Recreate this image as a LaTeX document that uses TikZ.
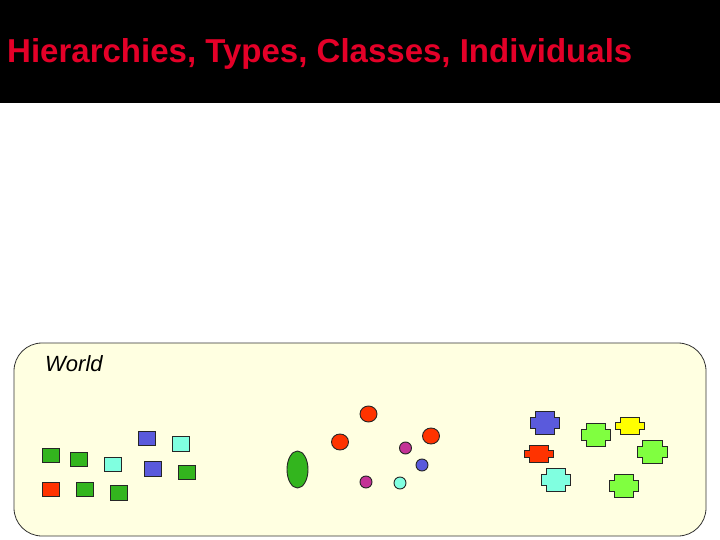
\documentclass[tikz,border=0pt]{standalone}
\usepackage{fontspec}
\setmainfont{Liberation Sans}
\usepackage{graphicx}
\usetikzlibrary{shapes.geometric}
\definecolor{titlered}{RGB}{228,0,40}
\definecolor{worldbg}{RGB}{255,255,225}
\definecolor{sqgreen}{RGB}{51,181,30}
\definecolor{sqred}{RGB}{255,51,0}
\definecolor{sqblue}{RGB}{90,90,220}
\definecolor{sqcyan}{RGB}{128,255,224}
\definecolor{dotpurple}{RGB}{195,50,150}
\definecolor{lgreen}{RGB}{128,255,64}
\definecolor{yel}{RGB}{255,255,0}
\newcommand\blob[6]{% cx, cy, w, h, notch-y, colour
  \draw[shape line, fill=#6, shift={(#1,#2)}]
    ({-#3/2+5},{-#4/2}) -- ({#3/2-5},{-#4/2}) -- ({#3/2-5},{-#4/2+#5}) -- ({#3/2},{-#4/2+#5})
    -- ({#3/2},{#4/2-#5}) -- ({#3/2-5},{#4/2-#5}) -- ({#3/2-5},{#4/2}) -- ({-#3/2+5},{#4/2})
    -- ({-#3/2+5},{#4/2-#5}) -- ({-#3/2},{#4/2-#5}) -- ({-#3/2},{-#4/2+#5}) -- ({-#3/2+5},{-#4/2+#5}) -- cycle;}
\begin{document}
\begin{tikzpicture}[x=1pt,y=-1pt,
  shape line/.style={draw=black!85, line width=0.9pt},
  sq/.style={shape line, minimum width=17pt, minimum height=14pt, inner sep=0pt, rectangle},
  dot/.style={shape line, circle, inner sep=0pt, minimum size=12pt},
  oval/.style={shape line, ellipse, inner sep=0pt, minimum width=17pt, minimum height=16pt}]
\useasboundingbox (0,0) rectangle (720,540);
\fill[white] (0,0) rectangle (720,540);
\fill[black] (0,0) rectangle (720,103);
\node[anchor=base west, inner sep=0pt, text=titlered] (title) at (7,63)
  {\resizebox{625pt}{24pt}{\bfseries Hierarchies, Types, Classes, Individuals}};
\draw[fill=worldbg, draw=black!80, line width=0.8pt, rounded corners=28pt] (14,343) rectangle (706,536);
\node[anchor=base west, inner sep=0pt, font=\fontsize{22}{24}\selectfont\itshape] (world) at (45,371) {World};
% squares
\node[sq, fill=sqgreen] (s1) at (50.5,455) {};
\node[sq, fill=sqgreen] (s2) at (78.5,459) {};
\node[sq, fill=sqcyan] (s3) at (113,464) {};
\node[sq, fill=sqblue] (s4) at (146.5,438) {};
\node[sq, fill=sqcyan, minimum height=15pt] (s5) at (181,444) {};
\node[sq, fill=sqblue, minimum height=15pt] (s6) at (153,468.5) {};
\node[sq, fill=sqgreen] (s7) at (187,472) {};
\node[sq, fill=sqred] (s8) at (50.5,489) {};
\node[sq, fill=sqgreen] (s9) at (85,489) {};
\node[sq, fill=sqgreen, minimum height=15pt] (s10) at (119,492.5) {};
% circles
\node[oval, minimum width=21pt, minimum height=37pt, fill=sqgreen] (e1) at (297.5,469.5) {};
\node[oval, fill=sqred] (c1) at (368.5,414) {};
\node[oval, fill=sqred] (c2) at (340,442) {};
\node[oval, fill=sqred] (c3) at (431,436) {};
\node[dot, fill=dotpurple] (d1) at (405.5,448) {};
\node[dot, fill=sqblue] (d2) at (422,465) {};
\node[dot, fill=dotpurple] (d3) at (366,482) {};
\node[dot, fill=sqcyan] (d4) at (400,483) {};
% crosses
\blob{544.5}{422.5}{29}{23}{6}{sqblue}
\blob{538.5}{453.5}{29}{17}{5}{sqred}
\blob{555.5}{479.5}{29}{23}{6}{sqcyan}
\blob{595.5}{434.5}{29}{23}{6}{lgreen}
\blob{629.5}{425.5}{29}{17}{5}{yel}
\blob{652}{451.5}{30}{23}{6}{lgreen}
\blob{623.5}{485.5}{29}{23}{6}{lgreen}
\end{tikzpicture}
\end{document}
